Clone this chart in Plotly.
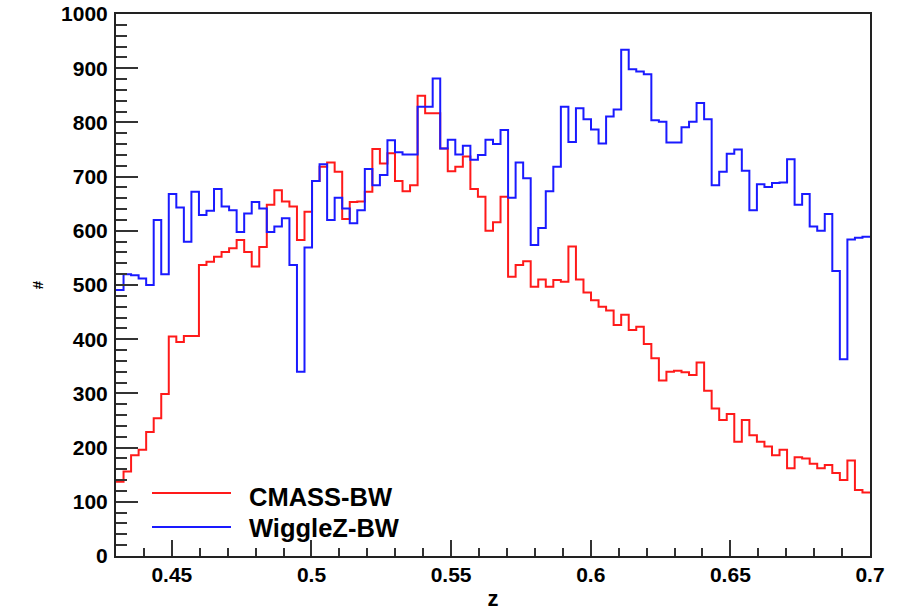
import numpy as np
import plotly.graph_objects as go

# ---------------- data ----------------
z_min = 0.43
z_max = 0.70
n_bins = 100

cmass_bw = [137, 156, 186, 196, 229, 254, 299, 405, 395, 406,
            406, 537, 543, 552, 561, 568, 583, 561, 534, 570,
            648, 675, 654, 645, 583, 635, 692, 718, 726, 709,
            622, 653, 654, 672, 751, 724, 743, 692, 673, 684,
            849, 817, 817, 752, 710, 718, 737, 677, 663, 600,
            616, 663, 515, 537, 544, 497, 510, 497, 509, 506,
            571, 510, 486, 472, 460, 453, 426, 445, 417, 423,
            391, 365, 324, 340, 342, 339, 334, 357, 305, 272,
            251, 262, 211, 251, 223, 211, 202, 186, 196, 162,
            182, 180, 170, 162, 168, 153, 140, 176, 122, 117]

wigglez_bw = [491, 520, 518, 512, 500, 620, 520, 668, 643, 580,
              672, 629, 637, 677, 645, 638, 598, 632, 653, 641,
              598, 608, 623, 537, 340, 569, 692, 723, 620, 661,
              641, 614, 638, 714, 684, 703, 767, 745, 741, 741,
              829, 829, 881, 752, 768, 741, 757, 731, 740, 768,
              760, 786, 661, 726, 697, 574, 605, 673, 718, 829,
              764, 826, 806, 787, 761, 811, 824, 934, 898, 894,
              889, 804, 801, 763, 763, 791, 801, 836, 806, 684,
              709, 742, 750, 711, 638, 686, 681, 688, 689, 732,
              648, 668, 608, 600, 631, 526, 363, 584, 587, 589]

series_names = ["CMASS-BW", "WiggleZ-BW"]
x_tickvals = [0.45, 0.50, 0.55, 0.60, 0.65, 0.70]
x_ticktext = ["0.45", "0.5", "0.55", "0.6", "0.65", "0.7"]
y_tickvals = [0, 100, 200, 300, 400, 500, 600, 700, 800, 900, 1000]
x_title = "z"
y_title = "#"

# ---------------- style ----------------
RED = "#ff1a1a"
BLUE = "#1a1aff"
FONT = "Liberation Sans, Arial, Helvetica, sans-serif"

edges = np.linspace(z_min, z_max, n_bins + 1)


def step_y(vals):
    return list(vals) + [vals[-1]]


fig = go.Figure()
for name, vals, col in [(series_names[0], cmass_bw, RED),
                        (series_names[1], wigglez_bw, BLUE)]:
    fig.add_trace(go.Scatter(
        x=edges, y=step_y(vals), mode="lines", name=name,
        line=dict(color=col, width=2, shape="hv"),
        showlegend=False, hoverinfo="skip"))

W, H = 899, 611
L, R, T, B = 116, 29, 14, 55
pw, ph = W - L - R, H - T - B


def px_x(px):
    return (px - L) / pw


def px_y(py):
    return (H - B - py) / ph


# manual ROOT-like legend (no border)
leg_items = [(series_names[0], RED, 493, 497), (series_names[1], BLUE, 527, 528)]
for name, col, ly, ty in leg_items:
    fig.add_shape(type="line", xref="paper", yref="paper",
                  x0=px_x(152), x1=px_x(231), y0=px_y(ly), y1=px_y(ly),
                  line=dict(color=col, width=2))
    fig.add_annotation(xref="paper", yref="paper", x=px_x(247), y=px_y(ty),
                       text=name, showarrow=False, xanchor="left", yanchor="middle",
                       font=dict(family=FONT, size=25.5, color="black", weight="bold"))

tickfont = dict(family=FONT, size=21, color="black", weight="bold")

fig.update_layout(
    width=W, height=H,
    margin=dict(l=L, r=R, t=T, b=B, pad=0, autoexpand=False),
    paper_bgcolor="white", plot_bgcolor="white",
    showlegend=False,
)
fig.update_xaxes(
    automargin=False,
    range=[z_min, z_max], tickmode="array", tickvals=x_tickvals, ticktext=x_ticktext,
    ticks="inside", ticklen=16, tickwidth=1.5, tickcolor="#333",
    minor=dict(tickmode="linear", tick0=z_min, dtick=0.01, ticks="inside",
               ticklen=8, tickwidth=1.5, tickcolor="#333"),
    showline=True, mirror=True, linecolor="#222", linewidth=2,
    showgrid=False, zeroline=False, tickfont=tickfont, ticklabelstandoff=-1,
    title=dict(text=x_title, font=dict(family=FONT, size=22, color="black", weight="bold"),
               standoff=6),
)
fig.update_yaxes(
    automargin=False,
    range=[0, 1000], tickmode="array", tickvals=y_tickvals,
    ticks="inside", ticklen=22, tickwidth=1.5, tickcolor="#333",
    minor=dict(tickmode="linear", tick0=0, dtick=20, ticks="inside",
               ticklen=11, tickwidth=1.5, tickcolor="#333"),
    showline=True, mirror=True, linecolor="#222", linewidth=2,
    showgrid=False, zeroline=False, tickfont=tickfont, ticklabelstandoff=2,
    title=dict(text=y_title, font=dict(family=FONT, size=15, color="black", weight="bold"),
               standoff=14),
)

fig.write_html("out.html")
